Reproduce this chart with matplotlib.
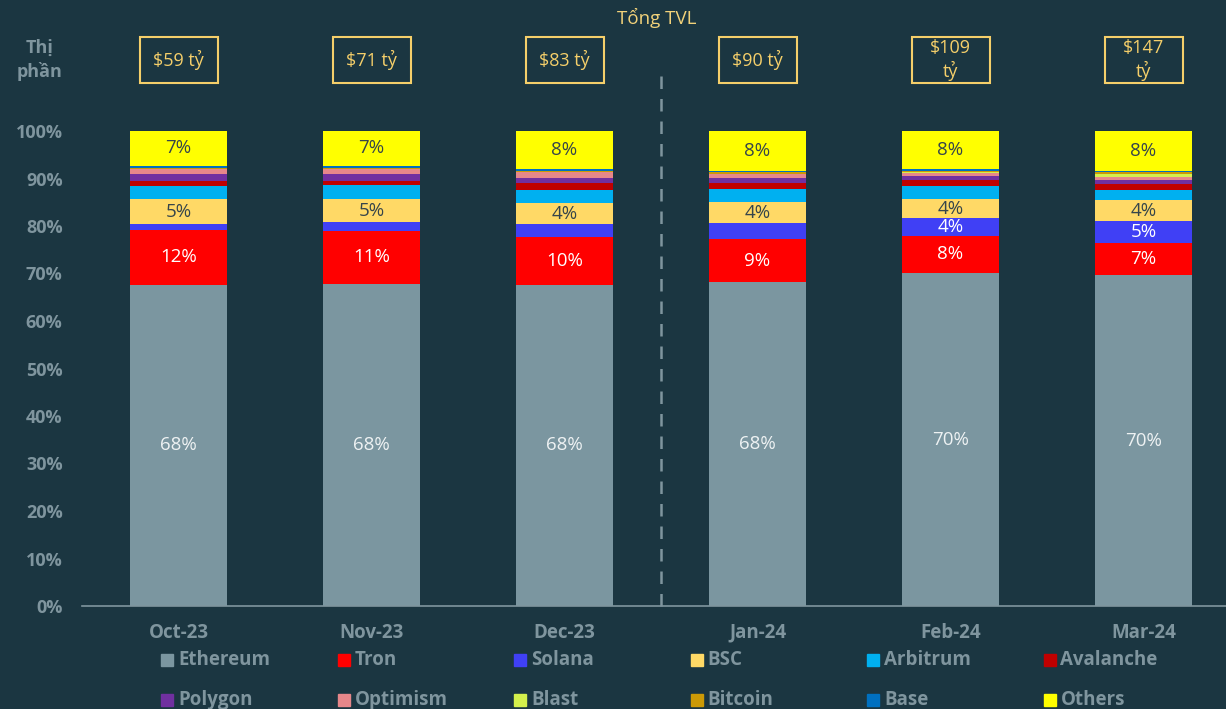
import matplotlib
matplotlib.use("Agg")
import matplotlib.pyplot as plt
from matplotlib.patches import Rectangle
import numpy as np

plt.rcParams["font.family"] = ["Open Sans", "DejaVu Sans"]

# Dữ liệu
months = ["Oct-23", "Nov-23", "Dec-23", "Jan-24", "Feb-24", "Mar-24"]
tvl_labels = ["$59 tỷ", "$71 tỷ", "$83 tỷ", "$90 tỷ", "$109\ntỷ", "$147\ntỷ"]

chains = ["Ethereum", "Tron", "Solana", "BSC", "Arbitrum", "Avalanche",
          "Polygon", "Optimism", "Blast", "Bitcoin", "Base", "Others"]
colors = ["#7b96a0", "#ff0000", "#4040f5", "#ffd966", "#00b0f0", "#c00000",
          "#7030a0", "#e6878a", "#d4f04c", "#cc9a06", "#0070c0", "#ffff00"]

ethereum = [67.6, 67.8, 67.6, 68.2, 70.1, 69.6]
tron = [11.6, 11.2, 10.0, 9.0, 7.9, 6.8]
solana = [1.2, 1.8, 2.8, 3.4, 3.6, 4.7]
bsc = [5.2, 4.9, 4.4, 4.4, 4.1, 4.3]
arbitrum = [2.9, 2.9, 2.8, 2.8, 2.7, 2.2]
avalanche = [0.9, 0.9, 1.4, 1.3, 1.2, 1.2]
polygon = [1.5, 1.5, 1.1, 1.0, 0.9, 0.8]
optimism = [1.1, 1.1, 1.2, 0.8, 0.7, 0.8]
blast = [0.0, 0.0, 0.0, 0.1, 0.2, 0.5]
bitcoin = [0.2, 0.2, 0.2, 0.3, 0.2, 0.4]
base = [0.5, 0.4, 0.5, 0.3, 0.3, 0.3]
others = [7.3, 7.3, 8.0, 8.4, 8.1, 8.4]

series = [ethereum, tron, solana, bsc, arbitrum, avalanche,
          polygon, optimism, blast, bitcoin, base, others]

# Nhãn hiển thị: chuỗi -> (màu chữ, ngưỡng tối thiểu)
label_style = {
    "Ethereum": ("#eef2f3", 0),
    "Tron": ("#ffffff", 0),
    "Solana": ("#ffffff", 3.5),
    "BSC": ("#36454b", 0),
    "Others": ("#36454b", 0),
}

bg = "#1b3641"
grey = "#7f959e"

fig = plt.figure(figsize=(12.26, 7.09), dpi=100)
fig.patch.set_facecolor(bg)
W, H = 1226, 709
ax = fig.add_axes([82 / W, 1 - 606 / H, 1158 / W, 475 / H])
ax.set_facecolor(bg)

x = np.arange(len(months))
bottom = np.zeros(len(months))
for name, vals, col in zip(chains, series, colors):
    vals = np.array(vals)
    ax.bar(x, vals, width=0.5, bottom=bottom, color=col, linewidth=0)
    if name in label_style:
        tc, thr = label_style[name]
        for i, v in enumerate(vals):
            if v >= thr:
                ax.text(x[i], bottom[i] + v / 2, f"{v:.0f}%", ha="center", va="center",
                        color=tc, fontsize=13.5)
    bottom += vals

ax.set_xlim(-0.5, 5.5)
ax.set_ylim(0, 100)
ax.set_yticks(np.arange(0, 101, 10))
ax.set_yticklabels([f"{t}%" for t in range(0, 101, 10)])
ax.set_xticks(x)
ax.set_xticklabels(months)
ax.tick_params(length=0, colors=grey, labelsize=13)
ax.tick_params(axis="y", pad=14)
ax.tick_params(axis="x", pad=12, labelsize=13.5)
for lab in ax.get_xticklabels() + ax.get_yticklabels():
    lab.set_fontweight("bold")
for s in ["top", "right", "left"]:
    ax.spines[s].set_visible(False)
ax.spines["bottom"].set_color(grey)
ax.spines["bottom"].set_linewidth(1.2)

# Đường phân cách
ax.plot([2.5, 2.5], [0, 112.5], color=grey, linestyle=(0, (5, 4)), linewidth=1.8,
        clip_on=False)

# Tiêu đề & hộp TVL
fig.text(657 / W, 1 - 18 / H, "Tổng TVL", ha="center", va="center",
         color="#f2d27a", fontsize=13.5)
fig.text(40 / W, 1 - 60 / H, "Thị\nphần", ha="center", va="center",
         color=grey, fontsize=13, fontweight="bold", linespacing=1.3)

box_col = "#f5cf6a"
for i, lab in enumerate(tvl_labels):
    cx = ax.transData.transform((x[i], 0))[0] / fig.dpi / fig.get_figwidth()
    bw, bh = 78 / W, 46 / H
    cy = 1 - 60 / H
    fig.patches.append(Rectangle((cx - bw / 2, cy - bh / 2), bw, bh, transform=fig.transFigure,
                                 fill=False, edgecolor=box_col, linewidth=1.5))
    fig.text(cx, cy, lab, ha="center", va="center", color=box_col, fontsize=13,
             linespacing=1.25)

# Chú thích
for i, (name, col) in enumerate(zip(chains, colors)):
    r, c = divmod(i, 6)
    lx = (167 + 176.5 * c) / W
    ly = 1 - (660 + 40 * r) / H
    fig.patches.append(Rectangle((lx - 6 / W, ly - 6 / H), 12 / W, 12 / H,
                                 transform=fig.transFigure, color=col))
    fig.text(lx + 11 / W, ly, name, ha="left", va="center", color=grey,
             fontsize=13.5, fontweight="bold")

fig.savefig("out.png", dpi=100, facecolor=bg)
